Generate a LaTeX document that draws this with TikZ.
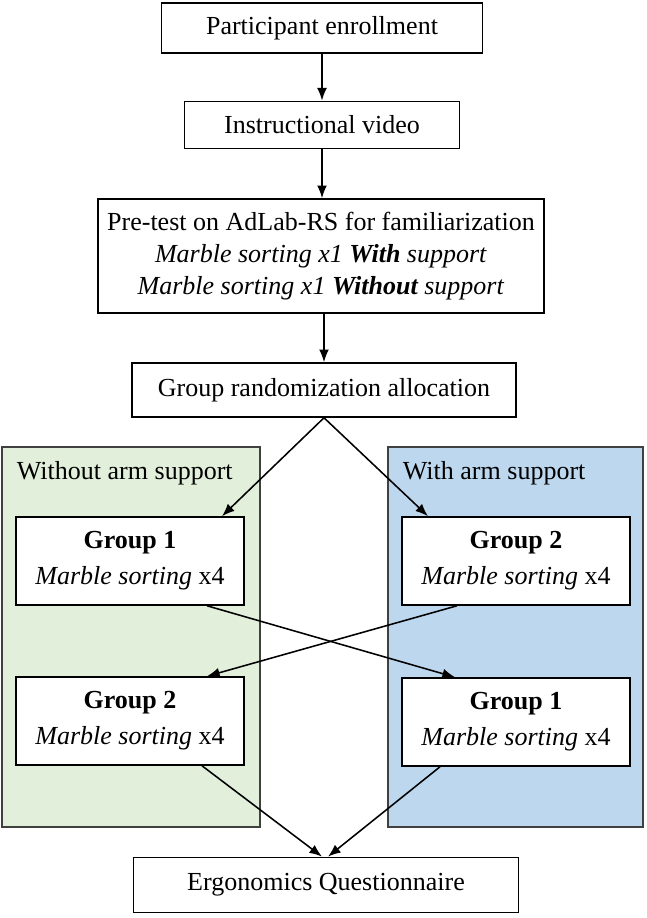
\documentclass[tikz,border=0pt]{standalone}
\usepackage{fontspec}
\setmainfont{Liberation Serif}
\usetikzlibrary{positioning,calc,arrows.meta}
\definecolor{nosupfill}{HTML}{E2EFDA}
\definecolor{supfill}{HTML}{BDD7EE}
\tikzstyle{block} = [draw, fill=white, rectangle, line width=1.1pt, align=center, inner sep=2pt]
\tikzstyle{group} = [block, minimum width=5.7cm, minimum height=2.2cm]
\tikzstyle{panel} = [draw=black!75, line width=1.1pt]
\tikzstyle{line} = [draw, line width=1.1pt, -{Latex[length=9pt,width=7pt]}]

\begin{document}
\begin{tikzpicture}[x=0.025cm, y=-0.025cm, font=\fontsize{18.5}{22.5}\selectfont]
    \useasboundingbox (0,0) rectangle (646,918);
    % panels
    \draw [panel, fill=nosupfill] (2,447) rectangle (260,827);
    \draw [panel, fill=supfill] (388,447) rectangle (643,827);
    \node [anchor=west] (nosup) at (12,473) {Without arm support};
    \node [anchor=west] (withsup) at (398,473) {With arm support};

    \node [block, minimum width=8.03cm, minimum height=1.25cm] (enroll) at (322,28) {Participant enrollment};
    \node [block, minimum width=6.88cm, minimum height=1.18cm] (video) at (322,125) {Instructional video};
    \node [block, minimum width=11.15cm, minimum height=2.85cm] (pretest) at (321,256)
        {Pre-test on AdLab-RS for familiarization\\
         \textit{Marble sorting x1 \textbf{With} support}\\
         \textit{Marble sorting x1 \textbf{Without} support}};
    \node [block, minimum width=9.6cm, minimum height=1.35cm] (rand) at (324,390) {Group randomization allocation};

    \node [group] (g1a) at (130,561) {\textbf{Group 1}\\[3pt] \textit{Marble sorting} x4};
    \node [group] (g2a) at (516,561) {\textbf{Group 2}\\[3pt] \textit{Marble sorting} x4};
    \node [group] (g2b) at (130,721) {\textbf{Group 2}\\[3pt] \textit{Marble sorting} x4};
    \node [group] (g1b) at (516,722) {\textbf{Group 1}\\[3pt] \textit{Marble sorting} x4};

    \node [block, minimum width=9.62cm, minimum height=1.38cm] (ergo) at (326,885) {Ergonomics Questionnaire};

    \draw [line] (enroll) -- (enroll |- video.north);
    \draw [line] (video) -- (video |- pretest.north);
    \draw [line] (rand |- pretest.south) -- (rand);
    \draw [line] (rand.south) -- ($(g1a.north)+(92,0)$);
    \draw [line] (rand.south) -- ($(g2a.north)+(-88,0)$);
    \draw [line] ($(g1a.south)+(77,0)$) -- ($(g1b.north)+(-61,0)$);
    \draw [line] ($(g2a.south)+(-59,0)$) -- ($(g2b.north)+(77,0)$);
    \draw [line] ($(g2b.south)+(72,0)$) -- ($(ergo.north)+(-4,0)$);
    \draw [line] ($(g1b.south)+(-76,0)$) -- ($(ergo.north)+(2,0)$);
\end{tikzpicture}
\end{document}
